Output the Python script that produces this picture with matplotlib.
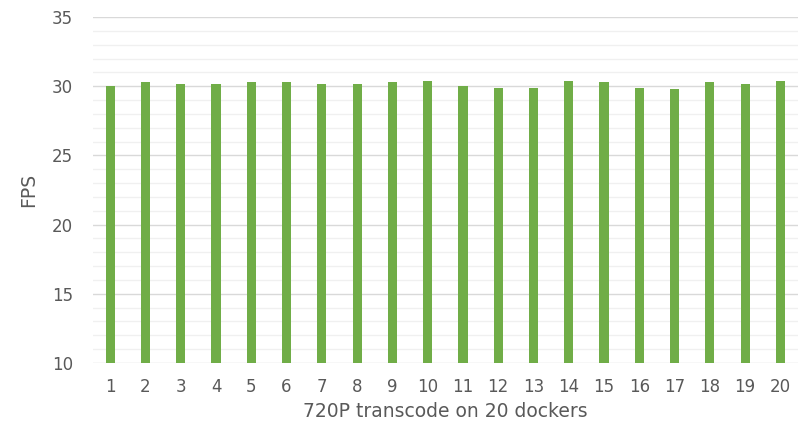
import numpy as np
from matplotlib import pyplot as plt
from matplotlib.ticker import MultipleLocator

plt.rcParams['font.family'] = ['DejaVu Sans']

# FPS per docker container
dockers = [str(i) for i in range(1, 21)]
fps = [30.0, 30.3, 30.2, 30.2, 30.3, 30.3, 30.2, 30.2, 30.3, 30.4,
       30.0, 29.9, 29.9, 30.4, 30.3, 29.9, 29.8, 30.3, 30.2, 30.4]

fig = plt.figure(figsize=(7.98, 4.28), dpi=100)
ax = fig.add_axes([0.116, 0.152, 0.884, 0.808])

x = np.arange(len(dockers))
ax.bar(x, fps, width=0.26, color='#70AD47', zorder=3)

ax.set_ylim(10, 35)
ax.set_xlim(-0.5, len(dockers) - 0.5)
ax.yaxis.set_major_locator(MultipleLocator(5))
ax.yaxis.set_minor_locator(MultipleLocator(1))
ax.grid(axis='y', which='major', color='#D9D9D9', linewidth=1, zorder=0)
ax.grid(axis='y', which='minor', color='#F0F0F0', linewidth=1, zorder=0)
ax.set_axisbelow(True)

ax.set_xticks(x)
ax.set_xticklabels(dockers)
ax.tick_params(axis='both', which='both', length=0, colors='#595959', labelsize=12)
ax.tick_params(axis='x', pad=11)
ax.tick_params(axis='y', pad=14)
for s in ax.spines.values():
    s.set_visible(False)

ax.set_xlabel('720P transcode on 20 dockers', fontsize=13.5, color='#595959', labelpad=4)
ax.set_ylabel('FPS', fontsize=13.5, color='#595959', labelpad=10)

plt.savefig('out.png')
